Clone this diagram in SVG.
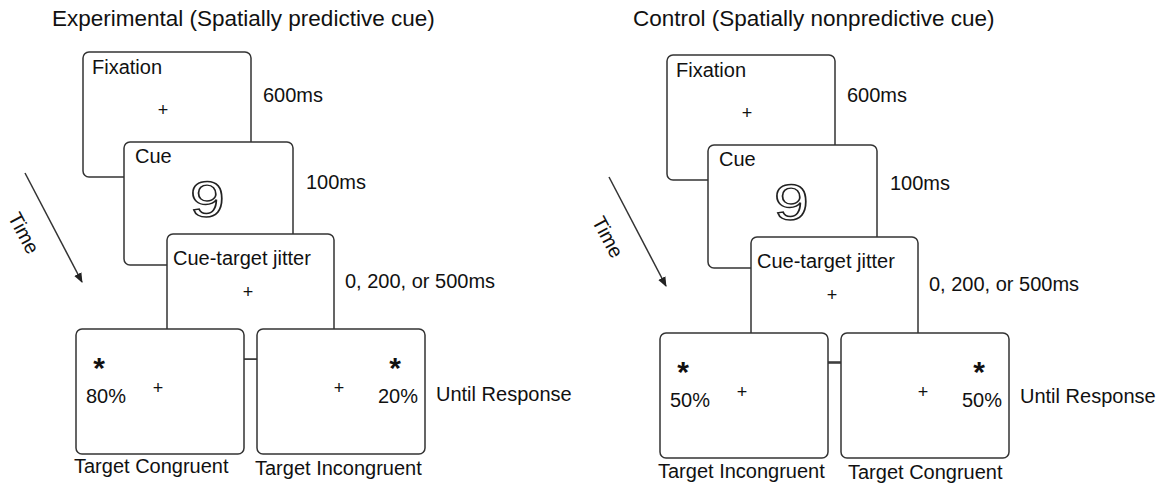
<svg xmlns="http://www.w3.org/2000/svg" width="1158" height="486" viewBox="0 0 1158 486">
<defs>
<style>
text{font-family:"Liberation Sans",Arial,sans-serif;fill:#111}
.t{font-size:20px}
.title{font-size:22.5px}
.box{fill:#fff;stroke:#333;stroke-width:1.5}
.plus{font-size:18px;text-anchor:middle}
.star{font-size:30px;font-weight:bold;text-anchor:middle}
.nine{font-size:50px;text-anchor:middle;fill:#fff;stroke:#222;stroke-width:1.4}
.ln{stroke:#333;stroke-width:1.5;fill:none}
</style>
<marker id="ah" markerWidth="10" markerHeight="10" refX="9" refY="5" orient="auto" markerUnits="userSpaceOnUse">
<path d="M0,1 L10,5 L0,9 Z" fill="#222"/>
</marker>
</defs>
<rect width="1158" height="486" fill="#fff"/>

<text id="title-exp" class="title" x="52" y="26">Experimental (Spatially predictive cue)</text>
<text id="title-ctrl" class="title" x="633" y="26">Control (Spatially nonpredictive cue)</text>

<g id="panel-left">
<g id="connectors-left">
<line class="ln" x1="25" y1="173" x2="82" y2="282" marker-end="url(#ah)"/>
<line class="ln" x1="244" y1="359" x2="257" y2="359"/>
</g>
<text id="time-left" class="t" transform="translate(24,233) rotate(62)" x="0" y="7" text-anchor="middle">Time</text>
<g id="fixation-left">
<rect class="box" x="83" y="52" width="168" height="125" rx="6"/>
<text class="t" x="92" y="74">Fixation</text>
<text class="plus" x="163" y="116">+</text>
<text class="t" x="263" y="102">600ms</text>
</g>
<g id="cue-left">
<rect class="box" x="124" y="142" width="169" height="123" rx="6"/>
<text class="t" x="135" y="163">Cue</text>
<text class="nine" transform="translate(207.5,217) scale(1.25,1)" x="0" y="0">9</text>
<text class="t" x="306" y="189">100ms</text>
</g>
<g id="jitter-left">
<rect class="box" x="167" y="234" width="167" height="125" rx="6"/>
<text class="t" x="173" y="265">Cue-target jitter</text>
<text class="plus" x="248" y="298">+</text>
<text class="t" x="345" y="288">0, 200, or 500ms</text>
</g>
<g id="target1-left">
<rect class="box" x="76" y="329" width="168" height="125" rx="6"/>
<text class="star" x="99" y="378">*</text>
<text class="t" x="86" y="403">80%</text>
<text class="plus" x="158" y="394">+</text>
<text class="t" x="74" y="473">Target Congruent</text>
</g>
<g id="target2-left">
<rect class="box" x="257" y="329" width="168" height="125" rx="6"/>
<text class="star" x="395" y="378">*</text>
<text class="t" x="378" y="403">20%</text>
<text class="plus" x="339" y="394">+</text>
<text class="t" x="255" y="475">Target Incongruent</text>
</g>
<text id="until-left" class="t" x="436" y="401">Until Response</text>
</g>

<g id="panel-right" transform="translate(584,4)">
<g id="connectors-right">
<line class="ln" x1="25" y1="173" x2="82" y2="282" marker-end="url(#ah)"/>
<line class="ln" x1="244" y1="359" x2="257" y2="359"/>
</g>
<text id="time-right" class="t" transform="translate(24,233) rotate(62)" x="0" y="7" text-anchor="middle">Time</text>
<g id="fixation-right">
<rect class="box" x="83" y="51" width="168" height="125" rx="6"/>
<text class="t" x="92" y="73">Fixation</text>
<text class="plus" x="163" y="115">+</text>
<text class="t" x="263" y="98">600ms</text>
</g>
<g id="cue-right">
<rect class="box" x="124" y="141" width="169" height="123" rx="6"/>
<text class="t" x="135" y="162">Cue</text>
<text class="nine" transform="translate(207.5,216) scale(1.25,1)" x="0" y="0">9</text>
<text class="t" x="306" y="186">100ms</text>
</g>
<g id="jitter-right">
<rect class="box" x="167" y="233" width="167" height="125" rx="6"/>
<text class="t" x="173" y="264">Cue-target jitter</text>
<text class="plus" x="248" y="297">+</text>
<text class="t" x="345" y="287">0, 200, or 500ms</text>
</g>
<g id="target1-right">
<rect class="box" x="76" y="329" width="168" height="125" rx="6"/>
<text class="star" x="99" y="378">*</text>
<text class="t" x="86" y="403">50%</text>
<text class="plus" x="158" y="394">+</text>
<text class="t" x="74" y="474">Target Incongruent</text>
</g>
<g id="target2-right">
<rect class="box" x="257" y="329" width="168" height="125" rx="6"/>
<text class="star" x="395" y="378">*</text>
<text class="t" x="378" y="403">50%</text>
<text class="plus" x="339" y="394">+</text>
<text class="t" x="264" y="475">Target Congruent</text>
</g>
<text id="until-right" class="t" x="436" y="399">Until Response</text>
</g>
</svg>
